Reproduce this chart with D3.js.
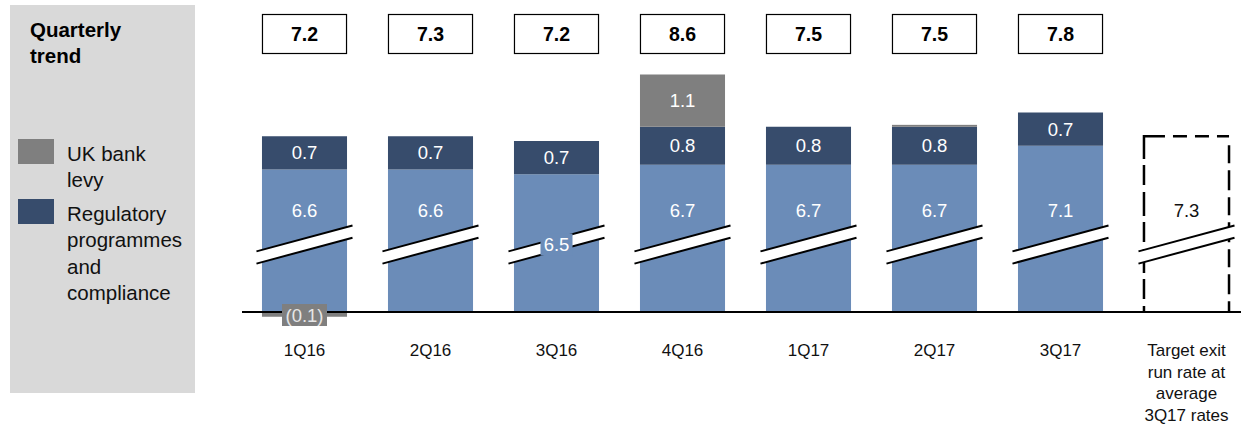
<!DOCTYPE html>
<html>
<head>
<meta charset="utf-8">
<script src="https://cdn.jsdelivr.net/npm/d3@7"></script>
<style>
body { margin: 0; background: #fff; }
svg { font-family: "Liberation Sans", Arial, sans-serif; }
</style>
</head>
<body>
<svg id="chart" width="1241" height="424"></svg>
<script>
// quarter data
var quarters = ["1Q16", "2Q16", "3Q16", "4Q16", "1Q17", "2Q17", "3Q17"];
var coreCosts = [6.6, 6.6, 6.5, 6.7, 6.7, 6.7, 7.1];
var regCosts = [0.7, 0.7, 0.7, 0.8, 0.8, 0.8, 0.7];
var bankLevy = [-0.1, 0, 0, 1.1, 0, 0.04, 0];
var totals = ["7.2", "7.3", "7.2", "8.6", "7.5", "7.5", "7.8"];
var targetLabel = ["Target exit", "run rate at", "average", "3Q17 rates"];
var targetValue = 7.3;

var legendItems = [
  {lines: ["UK bank", "levy"], color: "#7f7f7f"},
  {lines: ["Regulatory", "programmes", "and", "compliance"], color: "#374c6c"}
];

var lightBlue = "#6b8cb8", navy = "#374c6c", grey = "#7f7f7f";

var svg = d3.select("#chart");

// left grey panel with title + legend
svg.append("rect").attr("x", 10).attr("y", 5).attr("width", 185).attr("height", 388).attr("fill", "#d9d9d9");
svg.append("text").attr("x", 30).attr("y", 37).attr("font-size", 20.5).attr("font-weight", "bold").text("Quarterly");
svg.append("text").attr("x", 30).attr("y", 63).attr("font-size", 20.5).attr("font-weight", "bold").text("trend");

var legY = [139, 199];
var leg = svg.selectAll(".leg").data(legendItems).enter().append("g").attr("class", "leg");
leg.append("rect")
    .attr("x", 18).attr("y", function(d, i) { return legY[i]; })
    .attr("width", 36).attr("height", 25)
    .attr("fill", function(d) { return d.color; });
leg.each(function(d, i) {
  var t = d3.select(this).append("text").attr("font-size", 20.5).attr("fill", "#111");
  d.lines.forEach(function(l, j) {
    t.append("tspan").attr("x", 67).attr("y", legY[i] + 22 + j * 26.3).text(l);
  });
});

// scales
var cats = quarters.concat(["target"]);
var x = d3.scaleBand().domain(cats).range([241.5, 1249.5]).paddingInner(0.325).paddingOuter(0.1625);
// axis is broken: bars start at 3.6 on the baseline
var yBase = 3.6;
var y = d3.scaleLinear().domain([yBase, 9]).range([312, 312 - 5.4 * 47.5]);
var breakAt = 5.02;
var lightLabelAt = 5.73;

var data = quarters.map(function(q, i) {
  return {q: q, core: coreCosts[i], reg: regCosts[i], levy: bankLevy[i], total: totals[i]};
});

var g = svg.append("g");

// core segment
g.selectAll(".core").data(data).enter().append("rect")
    .attr("x", function(d) { return x(d.q); })
    .attr("width", x.bandwidth())
    .attr("y", function(d) { return y(d.core); })
    .attr("height", function(d) { return y(yBase) - y(d.core); })
    .attr("fill", lightBlue);

// regulatory segment
g.selectAll(".reg").data(data).enter().append("rect")
    .attr("x", function(d) { return x(d.q); })
    .attr("width", x.bandwidth())
    .attr("y", function(d) { return y(d.core + d.reg); })
    .attr("height", function(d) { return y(d.core) - y(d.core + d.reg); })
    .attr("fill", navy);

// bank levy, positive on top, negative below the baseline
g.selectAll(".levy").data(data.filter(function(d) { return d.levy !== 0; })).enter().append("rect")
    .attr("x", function(d) { return x(d.q); })
    .attr("width", x.bandwidth())
    .attr("y", function(d) { return d.levy > 0 ? y(d.core + d.reg + d.levy) : y(yBase); })
    .attr("height", function(d) {
      return d.levy > 0 ? y(d.core + d.reg) - y(d.core + d.reg + d.levy) : y(yBase + d.levy) - y(yBase);
    })
    .attr("fill", grey);

// target dashed box
var tx = x("target"), tw = x.bandwidth();
var dashed = g.append("g").attr("fill", "none").attr("stroke", "#000").attr("stroke-width", 2.5);
dashed.append("line").attr("x1", tx).attr("x2", tx + tw).attr("y1", y(targetValue)).attr("y2", y(targetValue))
    .attr("stroke-dasharray", "21,8,14,8,14,8,14,8");
dashed.append("line").attr("x1", tx).attr("x2", tx).attr("y1", y(targetValue) - 1.2).attr("y2", y(yBase))
    .attr("stroke-dasharray", "24,6,20,7");
dashed.append("line").attr("x1", tx + tw).attr("x2", tx + tw).attr("y1", y(targetValue) + 9).attr("y2", y(yBase))
    .attr("stroke-dasharray", "18,7,20,7");

// axis baseline
g.append("line").attr("x1", 242).attr("x2", 1241).attr("y1", y(yBase)).attr("y2", y(yBase))
    .attr("stroke", "#000").attr("stroke-width", 2);

// break marks
var slope = -25.6 / 95, gap = 6.1;
var brk = g.selectAll(".brk").data(cats).enter().append("g");
brk.each(function(c) {
  var x0 = x(c) - 5.5, x1 = x(c) + x.bandwidth() + 5.5, cx = (x0 + x1) / 2, yc = y(breakAt);
  var yl = function(xx, off) { return yc + off + slope * (xx - cx); };
  var sel = d3.select(this);
  sel.append("path")
      .attr("d", "M" + x0 + "," + yl(x0, -gap) + "L" + x1 + "," + yl(x1, -gap) + "L" + x1 + "," + yl(x1, gap) + "L" + x0 + "," + yl(x0, gap) + "Z")
      .attr("fill", "#fff");
  [-gap, gap].forEach(function(off) {
    sel.append("line").attr("x1", x0).attr("x2", x1).attr("y1", yl(x0, off)).attr("y2", yl(x1, off))
        .attr("stroke", "#000").attr("stroke-width", 2);
  });
});

// value labels
var lab = g.append("g").attr("font-size", 18.5).attr("text-anchor", "middle").attr("fill", "#fff");
data.forEach(function(d) {
  var cx = x(d.q) + x.bandwidth() / 2;
  var onBreak = d.core < 6.6;
  var ly = onBreak ? y(breakAt) : y(lightLabelAt);
  if (onBreak) {
    g.append("rect").attr("x", cx - 16).attr("y", ly - 11).attr("width", 32).attr("height", 22).attr("fill", lightBlue);
  }
  lab.append("text").attr("x", cx).attr("y", ly).attr("dy", "0.35em").text(d3.format(".1f")(d.core));
  lab.append("text").attr("x", cx).attr("y", y(d.core + d.reg / 2)).attr("dy", "0.35em").text(d3.format(".1f")(d.reg));
  if (d.levy >= 0.1) {
    lab.append("text").attr("x", cx).attr("y", y(d.core + d.reg + d.levy / 2)).attr("dy", "0.35em").text(d3.format(".1f")(d.levy));
  } else if (d.levy < 0) {
    g.append("rect").attr("x", cx - 22.5).attr("y", y(yBase) - 8).attr("width", 45).attr("height", 22).attr("fill", grey);
    lab.append("text").attr("x", cx).attr("y", y(yBase) + 3.5).attr("dy", "0.35em").attr("fill", "#e6e6e6")
        .text("(" + d3.format(".1f")(-d.levy) + ")");
  }
});
lab.raise();
g.append("text").attr("x", tx + tw / 2).attr("y", y(lightLabelAt)).attr("dy", "0.35em")
    .attr("font-size", 18.5).attr("text-anchor", "middle").attr("fill", "#111").text(d3.format(".1f")(targetValue));

// total boxes on top
var totBox = svg.selectAll(".tot").data(data).enter().append("g");
totBox.append("rect")
    .attr("x", function(d) { return x(d.q) + 0.5; })
    .attr("y", 14.5).attr("width", x.bandwidth() - 1).attr("height", 39)
    .attr("fill", "#fff").attr("stroke", "#000").attr("stroke-width", 1.2);
totBox.append("text")
    .attr("x", function(d) { return x(d.q) + x.bandwidth() / 2; })
    .attr("y", 34).attr("dy", "0.35em")
    .attr("text-anchor", "middle").attr("font-size", 19.5).attr("font-weight", "bold")
    .text(function(d) { return d.total; });

// category labels
var xAxis = svg.append("g").attr("font-size", 17).attr("text-anchor", "middle").attr("fill", "#111");
xAxis.selectAll("text").data(quarters).enter().append("text")
    .attr("x", function(d) { return x(d) + x.bandwidth() / 2; })
    .attr("y", 350).attr("dy", "0.35em").text(function(d) { return d; });
var tl = xAxis.append("text");
targetLabel.forEach(function(l, i) {
  tl.append("tspan").attr("x", tx + tw / 2).attr("y", 350 + i * 21.6).attr("dy", "0.35em").text(l);
});
</script>
</body>
</html>
